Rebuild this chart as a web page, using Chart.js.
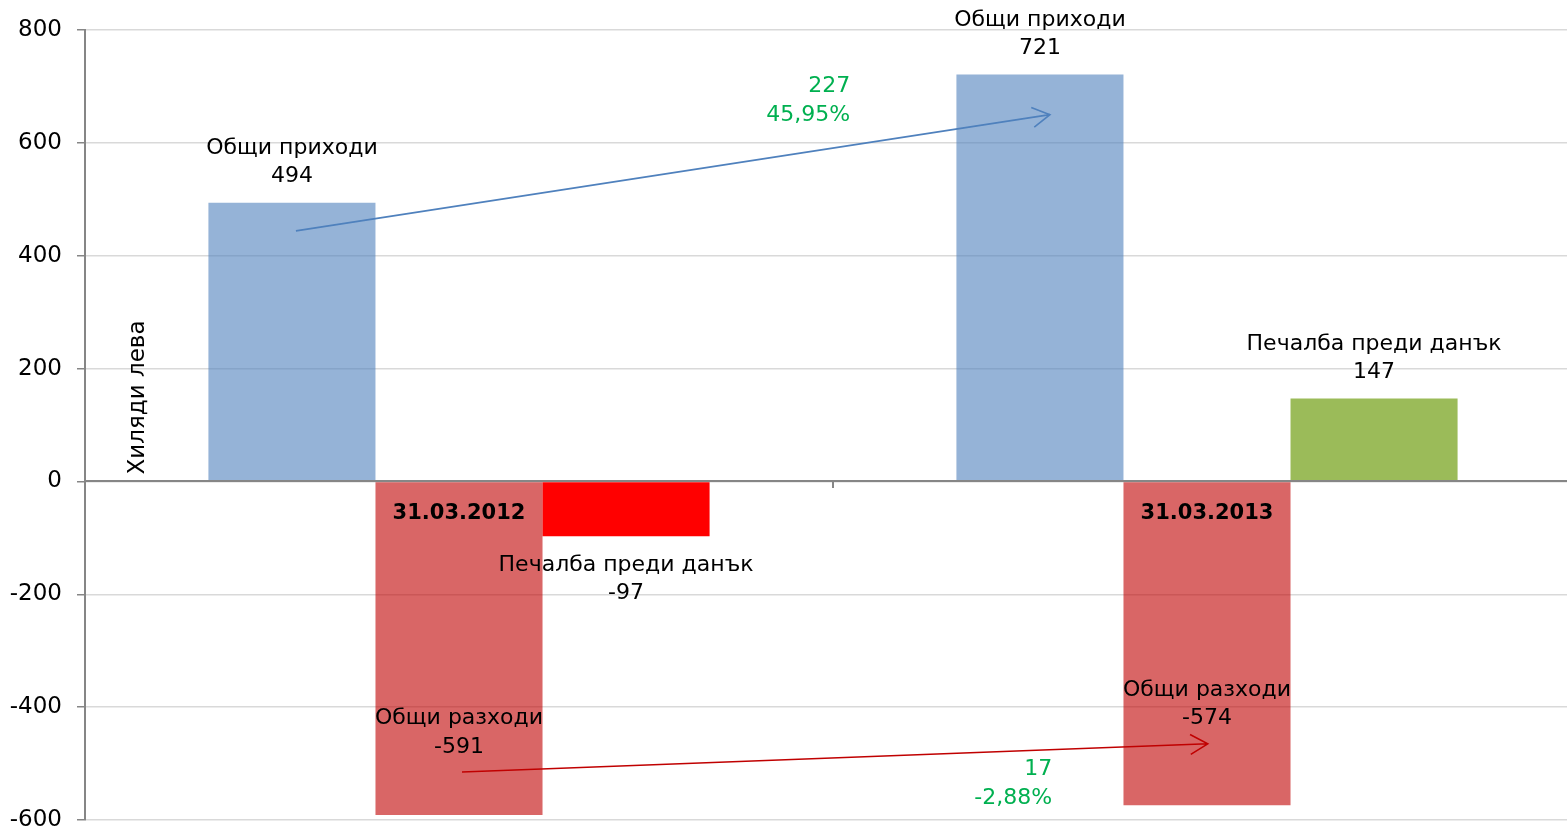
<!DOCTYPE html>
<html>
<head>
<meta charset="utf-8">
<script src="https://cdn.jsdelivr.net/npm/chart.js@4/dist/chart.umd.min.js"></script>
<style>
  html, body { margin: 0; padding: 0; background: #fff; overflow: hidden; }
  #wrap { width: 1581px; height: 829px; }
</style>
</head>
<body>
<div id="wrap"><canvas id="myChart"></canvas></div>
<script>
// data
var categories = ['31.03.2012', '31.03.2013'];
var seriesNames = ['Общи приходи', 'Общи разходи', 'Печалба преди данък'];
var income = [494, 721];
var expenses = [-591, -574];
var profit = [-97, 147];
var yMin = -600, yMax = 800, yStep = 200;
var axisTitle = 'Хиляди лева';

// change between the two dates
var incomeChange = ['227', '45,95%'];
var expensesChange = ['17', '-2,88%'];
// arrows, in [category index, value]
var incomeArrow = [[-0.218, 444], [0.79, 650]];
var expensesArrow = [[0.004, -515], [1.001, -465]];
var incomeChangeAt = [0.523, 674];
var expensesChangeAt = [0.793, -536];

var FONT = '"DejaVu Sans", Verdana, sans-serif';

// where each value label sits, relative to the bar end (px, centers of the two lines)
var labelPlace = [
  [[-54, -26], [-54, -26]],
  [[-97, -68], [-115, -87]],
  [[29, 57], [-54, -26]]
];

function drawArrow(ctx, x1, y1, x2, y2, color) {
  ctx.save();
  ctx.strokeStyle = color;
  ctx.lineWidth = 1.6;
  ctx.beginPath();
  ctx.moveTo(x1, y1);
  ctx.lineTo(x2, y2);
  var a = Math.atan2(y2 - y1, x2 - x1);
  var len = 20, spread = 0.52;
  ctx.moveTo(x2 - len * Math.cos(a - spread), y2 - len * Math.sin(a - spread));
  ctx.lineTo(x2, y2);
  ctx.lineTo(x2 - len * Math.cos(a + spread), y2 - len * Math.sin(a + spread));
  ctx.stroke();
  ctx.restore();
}

var extras = {
  id: 'extras',
  afterDatasetsDraw: function(chart) {
    var ctx = chart.ctx;
    var xs = chart.scales.x, ys = chart.scales.y;
    ctx.save();
    ctx.font = '22px ' + FONT;
    ctx.textAlign = 'center';
    ctx.textBaseline = 'middle';
    ctx.fillStyle = '#000';
    chart.data.datasets.forEach(function(ds, di) {
      var meta = chart.getDatasetMeta(di);
      meta.data.forEach(function(bar, i) {
        var pl = labelPlace[di][i];
        ctx.fillText(ds.label, bar.x, bar.y + pl[0]);
        ctx.fillText(String(ds.data[i]), bar.x, bar.y + pl[1]);
      });
    });

    // axis title
    ctx.save();
    ctx.font = '23px ' + FONT;
    ctx.translate(chart.chartArea.left + 53, ys.getPixelForValue(0) - 7);
    ctx.rotate(-Math.PI / 2);
    ctx.textAlign = 'left';
    ctx.fillText(axisTitle, 0, 0);
    ctx.restore();

    // arrows
    drawArrow(ctx, xs.getPixelForValue(incomeArrow[0][0]), ys.getPixelForValue(incomeArrow[0][1]),
      xs.getPixelForValue(incomeArrow[1][0]), ys.getPixelForValue(incomeArrow[1][1]), '#4F81BD');
    drawArrow(ctx, xs.getPixelForValue(expensesArrow[0][0]), ys.getPixelForValue(expensesArrow[0][1]),
      xs.getPixelForValue(expensesArrow[1][0]), ys.getPixelForValue(expensesArrow[1][1]), '#C00000');

    // change texts
    ctx.fillStyle = '#00B050';
    ctx.textAlign = 'right';
    var px = xs.getPixelForValue(incomeChangeAt[0]), py = ys.getPixelForValue(incomeChangeAt[1]);
    ctx.fillText(incomeChange[0], px, py - 15);
    ctx.fillText(incomeChange[1], px, py + 14);
    px = xs.getPixelForValue(expensesChangeAt[0]); py = ys.getPixelForValue(expensesChangeAt[1]);
    ctx.fillText(expensesChange[0], px, py - 15);
    ctx.fillText(expensesChange[1], px, py + 14);
    ctx.restore();
  }
};

new Chart('myChart', {
  type: 'bar',
  data: {
    labels: categories,
    datasets: [{
      label: seriesNames[0],
      data: income,
      backgroundColor: 'rgba(79,129,189,0.6)'
    }, {
      label: seriesNames[1],
      data: expenses,
      backgroundColor: 'rgba(192,0,0,0.6)'
    }, {
      label: seriesNames[2],
      data: profit,
      backgroundColor: profit.map(function(v) { return v < 0 ? '#FF0000' : '#9BBB59'; })
    }]
  },
  options: {
    responsive: true,
    maintainAspectRatio: false,
    animation: false,
    layout: { padding: { top: 30, right: 0, bottom: 9, left: 0 } },
    plugins: {
      legend: { display: false },
      tooltip: { enabled: false }
    },
    datasets: {
      bar: { categoryPercentage: 0.67, barPercentage: 1.0 }
    },
    scales: {
      x: {
        position: { y: 0 },
        grid: { drawOnChartArea: false, drawTicks: true, tickLength: 6, color: '#868686', lineWidth: 2, offset: true, z: 1 },
        border: { color: '#868686', width: 2, z: 1 },
        ticks: { color: '#000', padding: 14, z: 1, font: { family: FONT, size: 21, weight: 'bold' } }
      },
      y: {
        min: yMin,
        max: yMax,
        ticks: { stepSize: yStep, color: '#000', padding: 15, font: { family: FONT, size: 23 } },
        grid: { color: '#D9D9D9', lineWidth: 1.5, tickLength: 8, tickColor: '#868686' },
        border: { color: '#868686', width: 2 },
        afterFit: function(s) { s.width = 85; s.paddingTop = 0; s.paddingBottom = 0; }
      }
    }
  },
  plugins: [extras]
});
</script>
</body>
</html>
